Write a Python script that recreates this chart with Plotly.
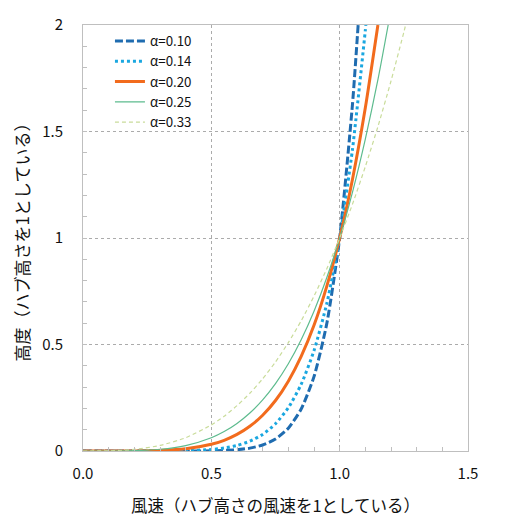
import plotly.graph_objects as go

# wind speed (x) / height (y), both relative to hub height values
x_010 = [0.0, 0.4, 0.5, 0.6, 0.65, 0.7, 0.75, 0.8, 0.85, 0.9, 0.95, 1.0, 1.05, 1.072]
h_010 = [0.0, 0.0001, 0.001, 0.006, 0.0135, 0.028, 0.056, 0.107, 0.197, 0.349, 0.599, 1.0, 1.629, 2.0]

x_014 = [0.0, 0.3, 0.4, 0.5, 0.55, 0.6, 0.65, 0.7, 0.75, 0.8, 0.85, 0.9, 0.95, 1.0, 1.05, 1.1, 1.102]
h_014 = [0.0, 0.0002, 0.0014, 0.0071, 0.014, 0.026, 0.046, 0.078, 0.128, 0.203, 0.313, 0.471, 0.693, 1.0, 1.417, 1.975, 2.0]

x_020 = [0.0, 0.2, 0.3, 0.4, 0.5, 0.55, 0.6, 0.65, 0.7, 0.75, 0.8, 0.85, 0.9, 0.95, 1.0, 1.05, 1.1, 1.149]
h_020 = [0.0, 0.0003, 0.0024, 0.0102, 0.0313, 0.0503, 0.0778, 0.116, 0.168, 0.237, 0.328, 0.444, 0.590, 0.774, 1.0, 1.276, 1.611, 2.0]

x_025 = [0.0, 0.1, 0.2, 0.3, 0.4, 0.5, 0.55, 0.6, 0.65, 0.7, 0.75, 0.8, 0.85, 0.9, 0.95, 1.0, 1.05, 1.1, 1.15, 1.189]
h_025 = [0.0, 0.0001, 0.0016, 0.0081, 0.0256, 0.0625, 0.0915, 0.1296, 0.1785, 0.2401, 0.3164, 0.4096, 0.522, 0.6561, 0.8145, 1.0, 1.2155, 1.4641, 1.749, 2.0]

x_033 = [0.0, 0.1, 0.2, 0.3, 0.4, 0.5, 0.55, 0.6, 0.65, 0.7, 0.75, 0.8, 0.85, 0.9, 0.95, 1.0, 1.05, 1.1, 1.15, 1.2, 1.25, 1.257]
h_033 = [0.0, 0.0009, 0.0076, 0.026, 0.0623, 0.1224, 0.163, 0.213, 0.271, 0.339, 0.418, 0.509, 0.611, 0.727, 0.856, 1.0, 1.159, 1.335, 1.527, 1.737, 1.966, 2.0]

series = [
    ('α=0.10', x_010, h_010, '#1F6CB0', 3, '8px,3px'),
    ('α=0.14', x_014, h_014, '#1AA7E0', 3, 'dot'),
    ('α=0.20', x_020, h_020, '#F26B1D', 3, 'solid'),
    ('α=0.25', x_025, h_025, '#5DBB8E', 1.2, 'solid'),
    ('α=0.33', x_033, h_033, '#C9DC9A', 1.2, '4px,3px'),
]

fig = go.Figure()
for name, xs, hs, color, width, dash in series:
    fig.add_trace(go.Scatter(
        x=xs, y=hs, name=name, mode='lines',
        line=dict(color=color, width=width, dash=dash, shape='spline', smoothing=0.6),
    ))

font_jp = 'Noto Sans CJK JP'
axis_common = dict(
    automargin=False,
    showline=True, linecolor='#BFBFBF', linewidth=1, mirror=True,
    showgrid=True, gridcolor='#ABABAB', griddash='3px,3px', gridwidth=1,
    zeroline=False,
    ticks='inside', ticklen=4, tickcolor='#BFBFBF',
    minor=dict(ticks='inside', dtick=0.1, ticklen=4, tickcolor='#BFBFBF', showgrid=False),
    tickfont=dict(size=15, color='#111111', family=font_jp),
)

# page body has an 8px margin, so the figure is a bit smaller than the window
fig.update_layout(
    width=499, height=518,
    margin=dict(l=75, r=39, t=17, b=75),
    plot_bgcolor='white', paper_bgcolor='white',
    font=dict(family=font_jp, color='#111111'),
    xaxis=dict(
        range=[0, 1.5], dtick=0.5, tickformat='.1f', ticklabelstandoff=9,
        title=dict(text='風速（ハブ高さの風速を1としている）', font=dict(size=16.5), standoff=18),
        **axis_common,
    ),
    yaxis=dict(
        range=[0, 2], dtick=0.5, ticklabelstandoff=16,
        title=dict(text='高度（ハブ高さを1としている）', font=dict(size=17), standoff=8),
        **axis_common,
    ),
    legend=dict(
        x=0.07, y=0.998, xanchor='left', yanchor='top',
        bgcolor='rgba(0,0,0,0)', font=dict(size=13.3, family=font_jp),
        tracegroupgap=0, itemwidth=30,
    ),
    showlegend=True,
)

fig.write_html("out.html")
